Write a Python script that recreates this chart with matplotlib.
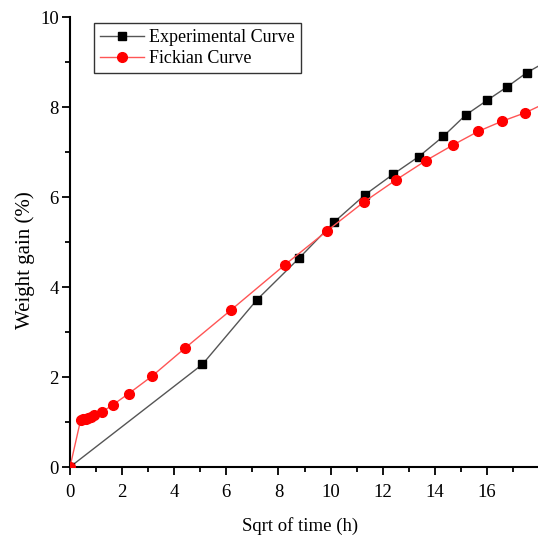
import matplotlib
matplotlib.use("Agg")
import matplotlib.pyplot as plt
from matplotlib.ticker import MultipleLocator

plt.rcParams['font.family'] = ['Liberation Serif', 'DejaVu Serif']

# Data
exp_x = [0, 5.08, 7.18, 8.79, 10.13, 11.32, 12.41, 13.39, 14.33, 15.18, 16.01, 16.78, 17.52, 18.25]
exp_y = [0, 2.28, 3.72, 4.64, 5.44, 6.05, 6.51, 6.90, 7.35, 7.82, 8.15, 8.45, 8.76, 9.00]
fick_x = [0, 0.41, 0.51, 0.60, 0.70, 0.81, 0.92, 1.22, 1.64, 2.25, 3.15, 4.41, 6.18, 8.24,
          9.87, 11.28, 12.51, 13.66, 14.71, 15.67, 16.56, 17.46, 18.30]
fick_y = [0, 1.05, 1.06, 1.07, 1.10, 1.12, 1.15, 1.22, 1.38, 1.63, 2.02, 2.64, 3.49, 4.49,
          5.25, 5.89, 6.38, 6.81, 7.16, 7.46, 7.68, 7.87, 8.10]
x_ticks = [0, 2, 4, 6, 8, 10, 12, 14, 16]
y_ticks = [0, 2, 4, 6, 8, 10]

fig = plt.figure(figsize=(5.38, 5.44), dpi=100)
ax = fig.add_axes([70/538, 77/544, 1 - 70/538, (467 - 17)/544])

ax.plot(exp_x, exp_y, color='#555555', lw=1.0, marker='s', ms=6.3,
        mfc='black', mec='black', label='Experimental Curve', zorder=2)
ax.plot(fick_x, fick_y, color='#ff5555', lw=1.0, marker='o', ms=7.0,
        mfc='#ff0000', mec='#ff0000', label='Fickian Curve', zorder=3)

ax.set_xlim(0, 468/26.06)
ax.set_ylim(0, 10)
ax.set_xticks(x_ticks)
ax.set_yticks(y_ticks)
ax.xaxis.set_minor_locator(MultipleLocator(1))
ax.yaxis.set_minor_locator(MultipleLocator(1))
ax.tick_params(which='major', direction='out', length=6, width=1.3, labelsize=13.5)
ax.tick_params(axis='x', which='major', pad=6)
ax.tick_params(axis='y', which='major', pad=2)
ax.tick_params(which='minor', direction='out', length=3.5, width=1.3)

for s in ['top', 'right']:
    ax.spines[s].set_visible(False)
for s in ['left', 'bottom']:
    ax.spines[s].set_linewidth(1.5)

ax.set_xlabel('Sqrt of time (h)', fontsize=13.5)
ax.xaxis.set_label_coords((300 - 70)/468, (467 - 517)/450)
ax.set_ylabel('Weight gain (%)', fontsize=15, va='center')
ax.yaxis.set_label_coords((25 - 70)/468, (467 - 260)/450)

leg = ax.legend(loc='upper left', bbox_to_anchor=(24/468, (467 - 23)/450), fontsize=13,
                frameon=True, fancybox=False, edgecolor='black', handlelength=2.4,
                borderpad=0.35, labelspacing=0.2, handletextpad=0.3, borderaxespad=0)
leg.get_frame().set_linewidth(1.0)

fig.savefig('out.png', dpi=100)
